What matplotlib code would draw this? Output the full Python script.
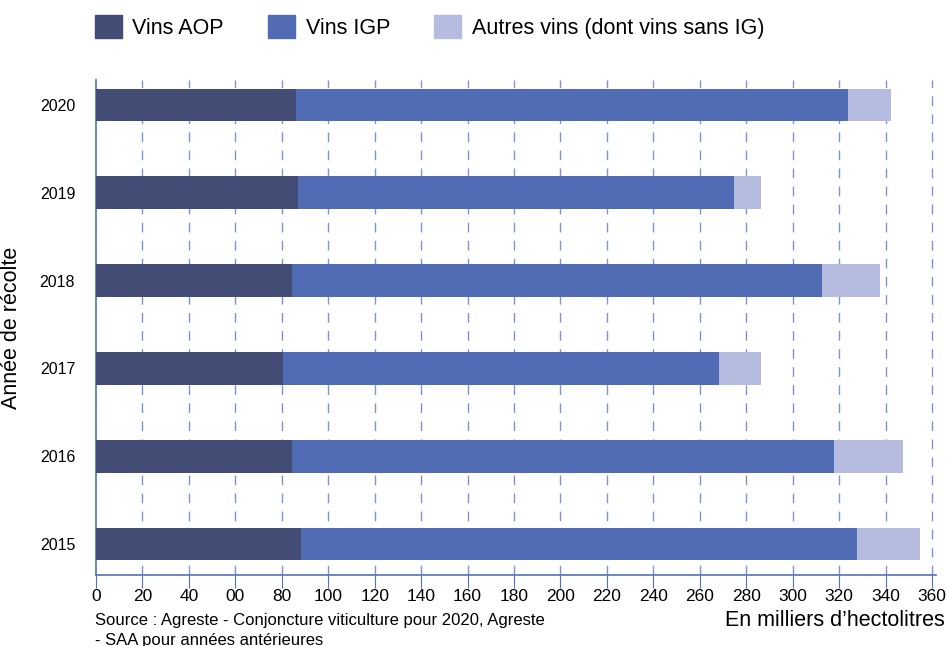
import matplotlib.pyplot as plt
import numpy as np
from matplotlib.patches import Patch

plt.rcParams['font.family'] = ['Liberation Sans', 'DejaVu Sans']

annees = ['2015', '2016', '2017', '2018', '2019', '2020']
aop = [88.3, 84.4, 80.5, 84.4, 87.0, 86.1]
igp = [239.4, 233.4, 187.8, 228.3, 187.8, 237.8]
autres = [27.2, 29.7, 18.1, 24.9, 11.6, 18.5]
xticks = np.arange(0, 361, 20)
xlabels = ['0', '20', '40', '00', '80', '100', '120', '140', '160', '180', '200',
           '220', '240', '260', '280', '300', '320', '340', '360']

c_aop = '#424c75'
c_igp = '#516cb4'
c_aut = '#b5bcdf'
c_axe = '#5470c0'

fig = plt.figure(figsize=(9.47, 6.46), dpi=100)
ax = fig.add_axes([96/947, 1-575/646, 840/947, 495/646])

y = np.arange(len(annees))
h = 0.375
ax.barh(y, aop, height=h, color=c_aop, zorder=3)
ax.barh(y, igp, left=aop, height=h, color=c_igp, zorder=3)
ax.barh(y, autres, left=np.array(aop)+np.array(igp), height=h, color=c_aut, zorder=3)

ax.set_xlim(0, 361.7)
ax.set_ylim(-0.353, 5.285)
ax.set_yticks(y)
ax.set_yticklabels(annees, fontsize=11.5)
ax.set_xticks(xticks)
ax.set_xticklabels(xlabels, fontsize=12.5)
ax.tick_params(axis='y', length=0, pad=15)
ax.tick_params(axis='x', length=9, color=c_axe, pad=1)

for v in xticks[1:]:
    ax.axvline(v, color=c_axe, lw=1, ls=(0, (7, 6)), alpha=0.75, zorder=1)

for s in ['top', 'right']:
    ax.spines[s].set_visible(False)
for s in ['left', 'bottom']:
    ax.spines[s].set_color(c_axe)
    ax.spines[s].set_linewidth(1.2)

ax.set_ylabel('Année de récolte', fontsize=15.5)
ax.yaxis.set_label_coords(-(96-22)/840, 0.5)

fig.text(945/947, 1-620/646, 'En milliers d\u2019hectolitres', fontsize=15.5,
         ha='right', va='center')
fig.text(95/947, 1-621/646, 'Source : Agreste - Conjoncture viticulture pour 2020, Agreste',
         fontsize=12, ha='left', va='center')
fig.text(95/947, 1-640/646, '- SAA pour années antérieures',
         fontsize=12, ha='left', va='center')

handles = [Patch(color=c_aop, label='Vins AOP'),
           Patch(color=c_igp, label='Vins IGP'),
           Patch(color=c_aut, label='Autres vins (dont vins sans IG)')]
fig.legend(handles=handles, ncol=3, loc='center left', bbox_to_anchor=(0.0795, 1-27/646),
           frameon=False, fontsize=15.5, handlelength=1.25, handleheight=1.3,
           handletextpad=0.5, columnspacing=2.05)

fig.savefig('out.png', dpi=100)
